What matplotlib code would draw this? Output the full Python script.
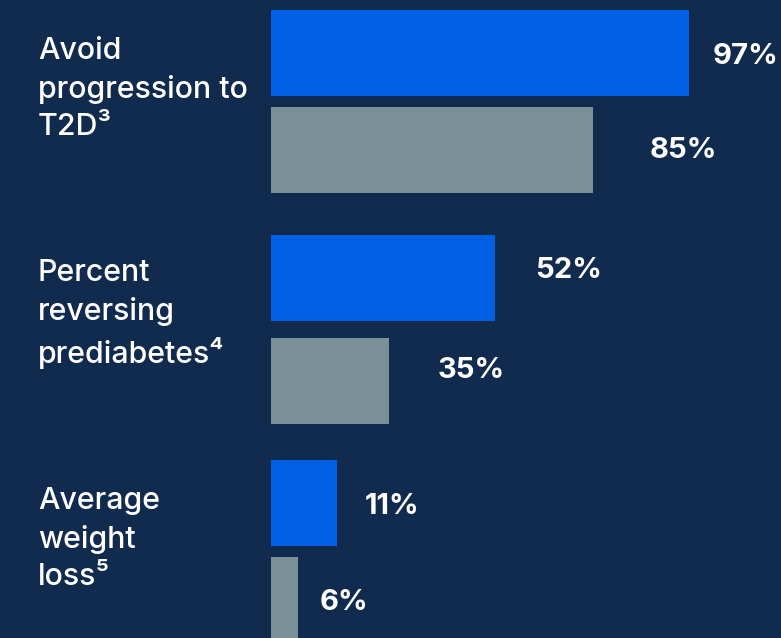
import matplotlib
matplotlib.use("Agg")
import matplotlib.pyplot as plt

# ---- data ----
categories = ["Avoid\nprogression to\nT2D³",
              "Percent\nreversing\nprediabetes⁴",
              "Average\nweight\nloss⁵"]
values_blue = [97, 52, 11]          # value labels (blue bars)
values_gray = [85, 35, 6]           # value labels (gray bars)
bar_blue = [97, 52, 15.3]           # displayed bar lengths (as drawn)
bar_gray = [74.7, 27.4, 6.3]

# ---- style / layout ----
BG = "#112b4f"
BLUE = "#0060e3"
GRAY = "#7b8f99"
W, H = 781, 638
X0 = 271            # pixel where bars start
PX_PER = 418 / 97   # pixels per unit of bar length
FAM = ["Inter", "DejaVu Sans"]

fig = plt.figure(figsize=(W / 100, H / 100), dpi=100, facecolor=BG)
ax = fig.add_axes([0, 0, 1, 1])
ax.set_facecolor(BG)
ax.set_xlim(-X0 / PX_PER, (W - X0) / PX_PER)
ax.set_ylim(H, 0)
ax.axis("off")

def px(x):
    return (x - X0) / PX_PER

group_step = 225
blue_c = [53 + group_step * i for i in range(3)]
gray_off = [97, 103, 97]
gray_c = [b + o for b, o in zip(blue_c, gray_off)]
bar_h = 86

ax.barh(blue_c, bar_blue, height=bar_h, color=BLUE, left=0)
ax.barh(gray_c, bar_gray, height=bar_h, color=GRAY, left=0)

# value label gaps (px) and vertical shifts (px) as laid out in the reference
gap_blue = [24, 40, 28]
gap_gray = [57, 49, 21]
dy_blue = [3, -7, 3]
dy_gray = [1, -10, 2]

for i in range(3):
    xb = X0 + bar_blue[i] * PX_PER + gap_blue[i]
    ax.text(px(xb), blue_c[i] + dy_blue[i], f"{values_blue[i]}%", color="white",
            fontsize=21, fontweight="bold", family=FAM, va="center", ha="left")
    xg = X0 + bar_gray[i] * PX_PER + gap_gray[i]
    ax.text(px(xg), gray_c[i] + dy_gray[i], f"{values_gray[i]}%", color="white",
            fontsize=21, fontweight="bold", family=FAM, va="center", ha="left")
    ax.text(px(38), 89 + group_step * i, categories[i], color="white",
            fontsize=21.8, family=FAM, fontweight="medium", va="center", ha="left",
            linespacing=1.42)

fig.savefig("out.png", dpi=100, facecolor=BG)
